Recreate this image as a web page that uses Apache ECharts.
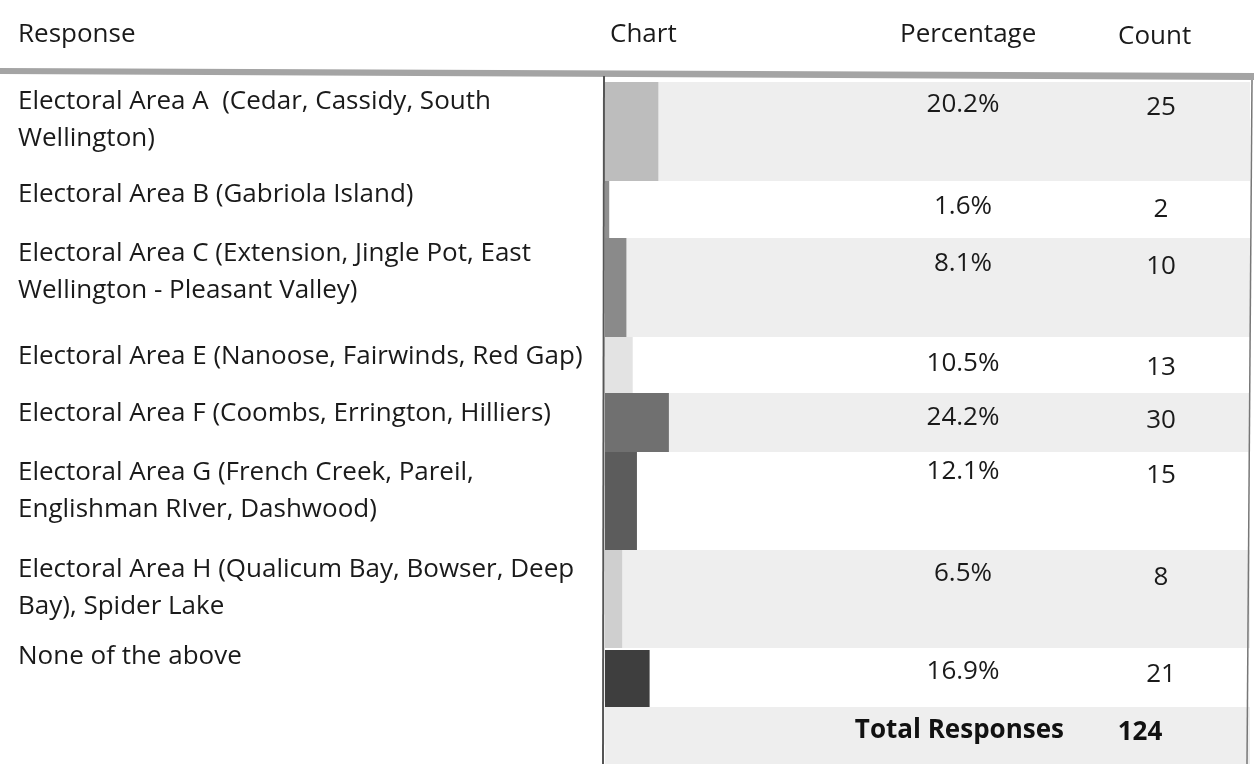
<!DOCTYPE html>
<html>
<head>
<meta charset="utf-8">
<title>Electoral Area responses</title>
<script src="https://cdn.jsdelivr.net/npm/echarts@6/dist/echarts.min.js"></script>
<style>
    html, body { margin: 0; padding: 0; background: #fff; }
    #main { width: 1254px; height: 764px; }
</style>
</head>
<body>
<div id="main"></div>
<script>
let responses = [
    'Electoral Area A  (Cedar, Cassidy, South\nWellington)',
    'Electoral Area B (Gabriola Island)',
    'Electoral Area C (Extension, Jingle Pot, East\nWellington - Pleasant Valley)',
    'Electoral Area E (Nanoose, Fairwinds, Red Gap)',
    'Electoral Area F (Coombs, Errington, Hilliers)',
    'Electoral Area G (French Creek, Pareil,\nEnglishman RIver, Dashwood)',
    'Electoral Area H (Qualicum Bay, Bowser, Deep\nBay), Spider Lake',
    'None of the above'
];
let percentages = [20.2, 1.6, 8.1, 10.5, 24.2, 12.1, 6.5, 16.9];
let counts = [25, 2, 10, 13, 30, 15, 8, 21];
let totalResponses = 124;
let headers = ['Response', 'Chart', 'Percentage', 'Count'];

// layout of the table (pixels)
let rowEdges = [82, 181, 238, 337, 393, 452, 550, 648, 707, 764];
let labelY = [102, 195, 254, 357, 414, 473, 570, 657];
let pctY = [105, 207, 264, 364, 418, 472, 574, 672];
let countY = [108, 210, 267, 368, 421, 476, 578, 675];
let barColors = ['#bdbdbd', '#8f8f8f', '#8a8a8a', '#e3e3e3', '#707070', '#5c5c5c', '#cfcfcf', '#3e3e3e'];
let chartLeft = 605, chartWidth = 264, tableRight = 1250;

let fontFamily = '"Open Sans", "Noto Sans", sans-serif';
let fontSize = 26;
let myChart = echarts.init(document.getElementById('main'));

let grids = [], xAxes = [], yAxes = [], series = [], graphics = [];

function txt(x, y, text, extra) {
    return Object.assign({
        type: 'text', x: x, y: y,
        style: Object.assign({
            text: text, fontFamily: fontFamily, fontSize: fontSize,
            fill: '#1a1a1a', verticalAlign: 'middle'
        }, extra || {})
    });
}

// stippled bands on rows A, C, F, H and the total row
[0, 2, 4, 6, 8].forEach(i => {
    graphics.push({
        type: 'rect', z: -10,
        shape: { x: chartLeft, y: rowEdges[i], width: tableRight - chartLeft, height: rowEdges[i + 1] - rowEdges[i] },
        style: { fill: '#eeeeee' }
    });
});

responses.forEach((name, i) => {
    let top = rowEdges[i];
    if (i === 7) top = 650;
    grids.push({ left: chartLeft, top: top, width: chartWidth, height: rowEdges[i + 1] - top });
    xAxes.push({ type: 'value', gridIndex: i, min: 0, max: 100, show: false });
    yAxes.push({ type: 'category', gridIndex: i, data: [name], show: false });
    series.push({
        type: 'bar',
        xAxisIndex: i,
        yAxisIndex: i,
        barWidth: '100%',
        silent: true,
        itemStyle: { color: barColors[i] },
        data: [percentages[i]]
    });

    graphics.push({
        type: 'text', x: 18, y: labelY[i] - 18.5,
        style: { text: name, fontFamily: fontFamily, fontSize: fontSize, fill: '#1a1a1a', lineHeight: 37, verticalAlign: 'top' }
    });
    graphics.push(txt(963, pctY[i], percentages[i].toFixed(1) + '%', { align: 'center' }));
    graphics.push(txt(1161, countY[i], String(counts[i]), { align: 'center' }));
});

// headers
let headerX = [18, 610, 900, 1118];
headers.forEach((h, i) => {
    graphics.push(txt(headerX[i], i === 3 ? 37 : 35, h));
});

// total row
graphics.push(txt(1064, 731, 'Total Responses', { align: 'right', fontWeight: 'bold', fill: '#111' }));
graphics.push(txt(1140, 733, String(totalResponses), { align: 'center', fontWeight: 'bold', fill: '#111' }));

// rules
graphics.push({
    type: 'polygon', z: 5,
    shape: { points: [[0, 68], [1254, 73], [1254, 80], [0, 74]] },
    style: { fill: '#a4a4a4' }
});
graphics.push({
    type: 'line', z: 5,
    shape: { x1: 604, y1: 76, x2: 603, y2: 764 },
    style: { stroke: '#555', lineWidth: 2 }
});
graphics.push({
    type: 'line', z: 5,
    shape: { x1: 1252, y1: 80, x2: 1247, y2: 764 },
    style: { stroke: '#777', lineWidth: 1.5 }
});

option = {
    backgroundColor: '#fff',
    animation: false,
    grid: grids,
    xAxis: xAxes,
    yAxis: yAxes,
    series: series,
    graphic: graphics
};
myChart.setOption(option);
</script>
</body>
</html>
